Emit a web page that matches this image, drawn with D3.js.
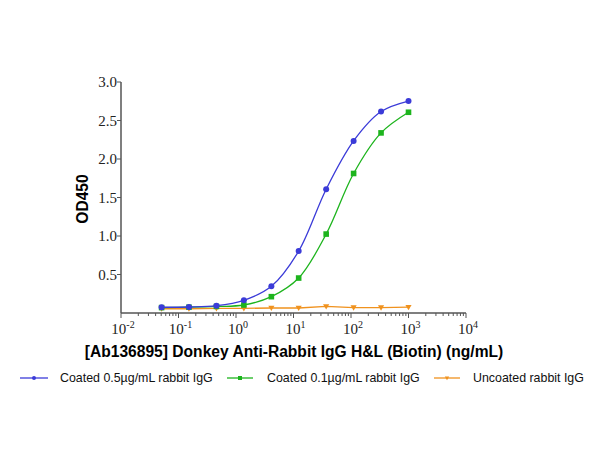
<!DOCTYPE html>
<html><head><meta charset="utf-8">
<script src="https://cdn.jsdelivr.net/npm/d3@7"></script>
<style>body{margin:0;background:#fff}svg{display:block}</style>
</head><body>
<svg id="c" width="600" height="450"></svg>
<script>
const concentrations = [0.0508, 0.152, 0.457, 1.37, 4.12, 12.3, 37.0, 111, 333, 1000];
const coated05 = [0.075, 0.078, 0.095, 0.165, 0.346, 0.804, 1.608, 2.235, 2.616, 2.753];
const coated01 = [0.07, 0.075, 0.085, 0.104, 0.212, 0.454, 1.025, 1.812, 2.339, 2.607];
const uncoated = [0.055, 0.055, 0.06, 0.06, 0.065, 0.065, 0.085, 0.07, 0.07, 0.075];
const seriesNames = ["Coated 0.5\u00b5g/mL rabbit IgG", "Coated 0.1\u00b5g/mL rabbit IgG", "Uncoated rabbit IgG"];
const yTicks = [0.5, 1.0, 1.5, 2.0, 2.5, 3.0];
const xExponents = [-2, -1, 0, 1, 2, 3, 4];

const SERIF = '"Liberation Serif"';
const SANS = '"Liberation Sans"';
const colors = ["#3b3bd8", "#1db41d", "#f0921e"];
const svg = d3.select("#c");
const x = d3.scaleLog().domain([0.01, 10000]).range([121, 466]);
const y = d3.scaleLinear().domain([0, 3]).range([313, 82]);
const axisColor = "#555";

// Y axis
const gy = svg.append("g").attr("transform", "translate(121,0)");
gy.append("line").attr("y1", y(3)).attr("y2", 313).attr("stroke", axisColor).attr("stroke-width", 1.5);
yTicks.forEach(t => {
  gy.append("line").attr("x1", -4).attr("x2", 0).attr("y1", y(t)).attr("y2", y(t)).attr("stroke", axisColor).attr("stroke-width", 1);
  gy.append("text").style("font-family", SERIF).attr("x", -4).attr("y", y(t)).attr("dy", "0.35em").attr("text-anchor", "end")
    .attr("font-size", 15).attr("fill", "#222").text(t.toFixed(1));
});

// X axis
const gx = svg.append("g");
gx.append("line").attr("x1", 121).attr("x2", 466).attr("y1", 313).attr("y2", 313).attr("stroke", axisColor).attr("stroke-width", 1.5);
xExponents.forEach(e => {
  const v = Math.pow(10, e);
  gx.append("line").attr("x1", x(v)).attr("x2", x(v)).attr("y1", 313).attr("y2", 318).attr("stroke", axisColor);
  if (e < 4) {
    for (let m = 2; m <= 9; m++) {
      gx.append("line").attr("x1", x(v * m)).attr("x2", x(v * m)).attr("y1", 313).attr("y2", 316).attr("stroke", axisColor);
    }
  }
  const t = gx.append("text").style("font-family", SERIF).attr("x", x(v) + 2).attr("y", 334).attr("text-anchor", "middle")
    .attr("font-size", 15).attr("fill", "#222");
  t.append("tspan").text("10");
  t.append("tspan").attr("dy", -6).attr("font-size", 10).text(e);
});

// Titles
svg.append("text").style("font-family", SANS).attr("x", 294).attr("y", 357).attr("text-anchor", "middle")
  .attr("font-weight", "bold").attr("font-size", 15.6)
  .attr("fill", "#000").text("[Ab136895] Donkey Anti-Rabbit IgG H&L (Biotin) (ng/mL)");
svg.append("text").style("font-family", SANS).attr("transform", "translate(88,199) rotate(-90)").attr("text-anchor", "middle")
  .attr("font-weight", "bold").attr("font-size", 15.6)
  .attr("fill", "#000").text("OD450");

const allSeries = [coated05, coated01, uncoated];
const curves = [d3.curveCatmullRom.alpha(0.5), d3.curveCatmullRom.alpha(0.5), d3.curveLinear];

function marker(g, i, cx, cy, s) {
  if (i === 0) g.append("circle").attr("cx", cx).attr("cy", cy).attr("r", s).attr("fill", colors[0]);
  else if (i === 1) g.append("rect").attr("x", cx - s).attr("y", cy - s).attr("width", 2 * s).attr("height", 2 * s).attr("fill", colors[1]);
  else g.append("path").attr("d", `M${cx - s * 1.1},${cy - s * 0.8}L${cx + s * 1.1},${cy - s * 0.8}L${cx},${cy + s * 1.1}Z`).attr("fill", colors[2]);
}

[2, 1, 0].forEach(i => {
  const vals = allSeries[i];
  const pts = concentrations.map((c, k) => [x(c), y(vals[k])]);
  svg.append("path").attr("d", d3.line().curve(curves[i])(pts)).attr("fill", "none")
    .attr("stroke", colors[i]).attr("stroke-width", 1.3);
  const g = svg.append("g");
  pts.forEach(p => marker(g, i, p[0], p[1], i === 0 ? 3 : 2.8));
});

// Legend
const legend = [
  {x1: 20, x2: 48, tx: 60},
  {x1: 227, x2: 253, tx: 267},
  {x1: 434, x2: 460, tx: 473}
];
legend.forEach((L, i) => {
  const g = svg.append("g");
  g.append("line").attr("x1", L.x1).attr("x2", L.x2).attr("y1", 378).attr("y2", 378).attr("stroke", colors[i]).attr("stroke-width", 1.3);
  marker(g, i, (L.x1 + L.x2) / 2, 378, 2);
  g.append("text").style("font-family", SANS).attr("x", L.tx).attr("y", 378).attr("dy", "0.35em")
    .attr("font-size", 12.4).attr("fill", "#111").text(seriesNames[i]);
});
</script>
</body></html>
